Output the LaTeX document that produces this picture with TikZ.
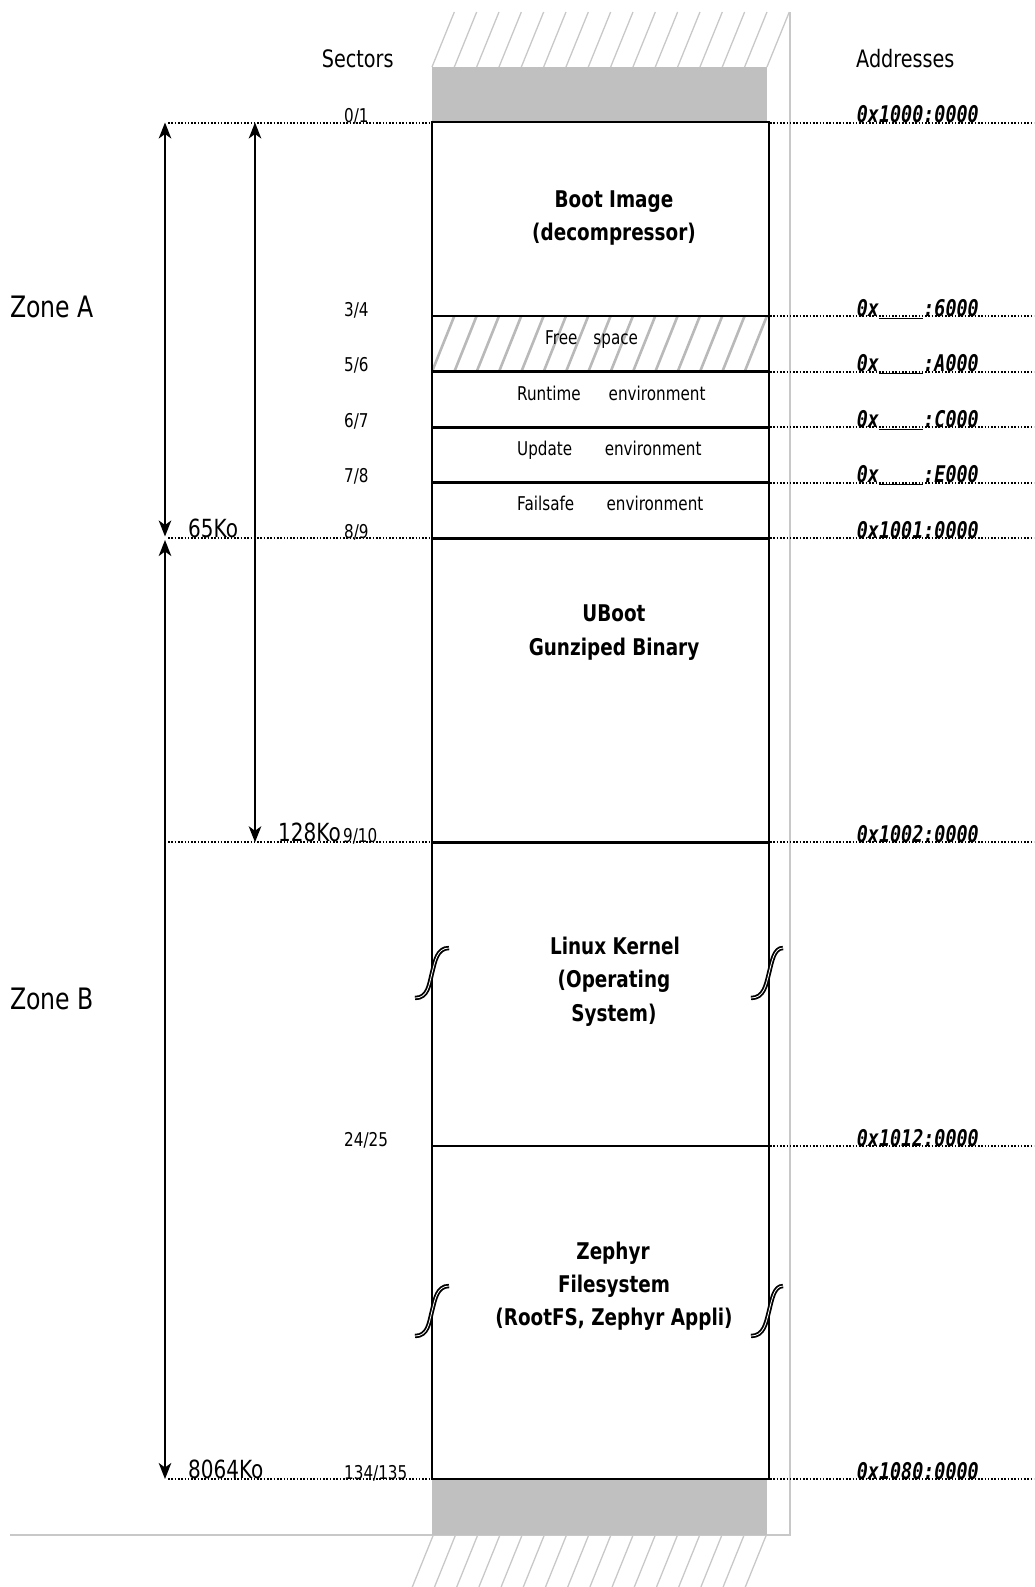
\documentclass[tikz,border=0pt]{standalone}
\usepackage{fontspec}
\setmainfont{DejaVu Sans}[FakeStretch=0.8]
\newfontfamily\addrfont{DejaVu Sans Mono}[FakeStretch=0.8]
\usetikzlibrary{arrows.meta}
\definecolor{blockgray}{RGB}{192,192,192}
\definecolor{hatchgray}{RGB}{200,200,200}
\definecolor{freegray}{RGB}{185,185,185}
\begin{document}
\begin{tikzpicture}[x=1pt,y=-1pt,
  >={Stealth[length=16pt,width=12.5pt,inset=4.5pt]},
  boxline/.style={line width=2.5pt,line cap=rect},
  sepline/.style={line width=2.5pt},
  dotline/.style={line width=2pt,dash pattern=on 1.6pt off 1.7pt},
  dimarrow/.style={<->,line width=2.2pt},
  hatchlight/.style={draw=hatchgray,line width=1.3pt},
  hatchfree/.style={draw=freegray,line width=2.6pt},
  framegray/.style={draw=hatchgray,line width=1.4pt},
  brk/.style={line width=1.8pt,double=white,double distance=0.8pt},
  sect/.style={anchor=base west,inner sep=0pt,font=\fontsize{19}{22}\selectfont},
  addr/.style={anchor=base west,inner sep=0pt,font=\addrfont\bfseries\itshape\fontsize{23}{26}\selectfont},
  blk/.style={anchor=base,inner sep=0pt,font=\bfseries\fontsize{23}{26}\selectfont},
  envtext/.style={anchor=base west,inner sep=0pt,font=\fontsize{19}{22}\selectfont},
  head/.style={anchor=base west,inner sep=0pt,font=\fontsize{24}{28}\selectfont},
  zone/.style={anchor=base west,inner sep=0pt,font=\fontsize{29.5}{33}\selectfont},
  size/.style={anchor=base west,inner sep=0pt,font=\fontsize{25}{29}\selectfont}]
\useasboundingbox (0,0) rectangle (1034,1587);

% page frame
\draw[framegray] (10,1535) -- (790,1535) -- (790,12);

% top / bottom hatching
\foreach \i in {0,...,15}{
  \draw[hatchlight] ({432+22.33*\i},67) -- ({454.33+22.33*\i},12);
  \draw[hatchlight] ({433.3+22.2*\i},1535) -- ({412.3+22.2*\i},1587);
}
% grey blocks
\fill[blockgray] (432,67) rectangle (767,122);
\fill[blockgray] (432,1479) rectangle (767,1535);

% free space hatching
\foreach \i in {0,...,14}{
  \draw[hatchfree] ({432+22.33*\i},371.7) -- ({454.3+22.33*\i},316);
}

% coordinates
\coordinate (bTL) at (432,122);
\coordinate (bBR) at (769,1479);

% main box
\draw[boxline] (bTL) rectangle (bBR);
\foreach \y in {316,371.7,427.3,482.7,538.3,842.3,1146}{
  \draw[sepline] (432,\y) -- (769,\y);
}

% right dotted lines
\foreach \y [count=\n] in {122.5,316,371.7,427.3,482.7,538.3,842.3,1146,1479}{
  \coordinate (r\n) at (770,\y);
  \coordinate (e\n) at (1034,\y);
  \draw[dotline] (r\n) -- (e\n);
}
% left dotted lines
\foreach \y [count=\n] in {122.5,538.3,842.3,1479}{
  \coordinate (l\n) at (168,\y);
  \coordinate (k\n) at (431,\y);
  \draw[dotline] (l\n) -- (k\n);
}

% dimension arrows
\coordinate (za1) at (165,122.5);
\coordinate (za2) at (165,536.5);
\coordinate (zb1) at (165,540);
\coordinate (zb2) at (165,1479);
\coordinate (zc1) at (255,122.5);
\coordinate (zc2) at (255,842.3);
\draw[dimarrow] (za1) -- (za2);
\draw[dimarrow] (zb1) -- (zb2);
\draw[dimarrow] (zc1) -- (zc2);

% break marks
\foreach \yc in {973,1311}{
  \draw[brk] (415,\yc+25) .. controls (428,\yc+25) and (429,\yc+12) .. (432,\yc)
             .. controls (435,\yc-12) and (437,\yc-25) .. (449,\yc-25);
  \draw[brk] (751,\yc+25) .. controls (764,\yc+25) and (766,\yc+12) .. (769,\yc)
             .. controls (772,\yc-12) and (774,\yc-25) .. (783,\yc-25);
}

% headings
\node[head] (hsec) at (321.7,67.5) {Sectors};
\node[head] (hadr) at (856,67.5) {Addresses};
\node[zone] (zA) at (10,317) {Zone A};
\node[zone] (zB) at (10,1009) {Zone B};

% sizes
\node[size] (s65) at (188,537) {65Ko};
\node[size] (s128) at (278,841.5) {128Ko};
\node[size] (s8064) at (188,1478) {8064Ko};

% sectors
\node[sect] (c01) at (344,122) {0/1};
\node[sect] (c34) at (344,316) {3/4};
\node[sect] (c56) at (344,371.5) {5/6};
\node[sect] (c67) at (344,427) {6/7};
\node[sect] (c78) at (344,482.5) {7/8};
\node[sect] (c89) at (344,538) {8/9};
\node[sect] (c910) at (343,842) {9/10};
\node[sect] (c2425) at (344,1146) {24/25};
\node[sect] (c134) at (344,1479) {134/135};

% addresses
\node[addr] (a0) at (856.7,122.5) {0x1000:0000};
\node[addr] (a1) at (856.7,316) {0x\underline{\phantom{0000}}:6000};
\node[addr] (a2) at (856.7,371.7) {0x\underline{\phantom{0000}}:A000};
\node[addr] (a3) at (856.7,427.3) {0x\underline{\phantom{0000}}:C000};
\node[addr] (a4) at (856.7,482.7) {0x\underline{\phantom{0000}}:E000};
\node[addr] (a5) at (856.7,538.3) {0x1001:0000};
\node[addr] (a6) at (856.7,842.3) {0x1002:0000};
\node[addr] (a7) at (856.7,1146) {0x1012:0000};
\node[addr] (a8) at (856.7,1479) {0x1080:0000};

% block texts
\node[blk] (t1a) at (614,207) {Boot Image};
\node[blk] (t1b) at (614,240) {(decompressor)};
\node[envtext] (tfree) at (545,344.3) {Free\hspace{16pt}space};
\node[envtext] (trun) at (517,400) {Runtime\hspace{28pt}environment};
\node[envtext] (tupd) at (517,455) {Update\hspace{32.5pt}environment};
\node[envtext] (tfail) at (517,510.7) {Failsafe\hspace{32.3pt}environment};
\node[blk] (t2a) at (614,621.5) {UBoot};
\node[blk] (t2b) at (614,655) {Gunziped Binary};
\node[blk] (t3a) at (615,954.5) {Linux Kernel};
\node[blk] (t3b) at (614,987.7) {(Operating};
\node[blk] (t3c) at (614,1021) {System)};
\node[blk] (t4a) at (613,1259) {Zephyr};
\node[blk] (t4b) at (614,1292.3) {Filesystem};
\node[blk] (t4c) at (614,1325.7) {(RootFS, Zephyr Appli)};
\end{tikzpicture}
\end{document}
